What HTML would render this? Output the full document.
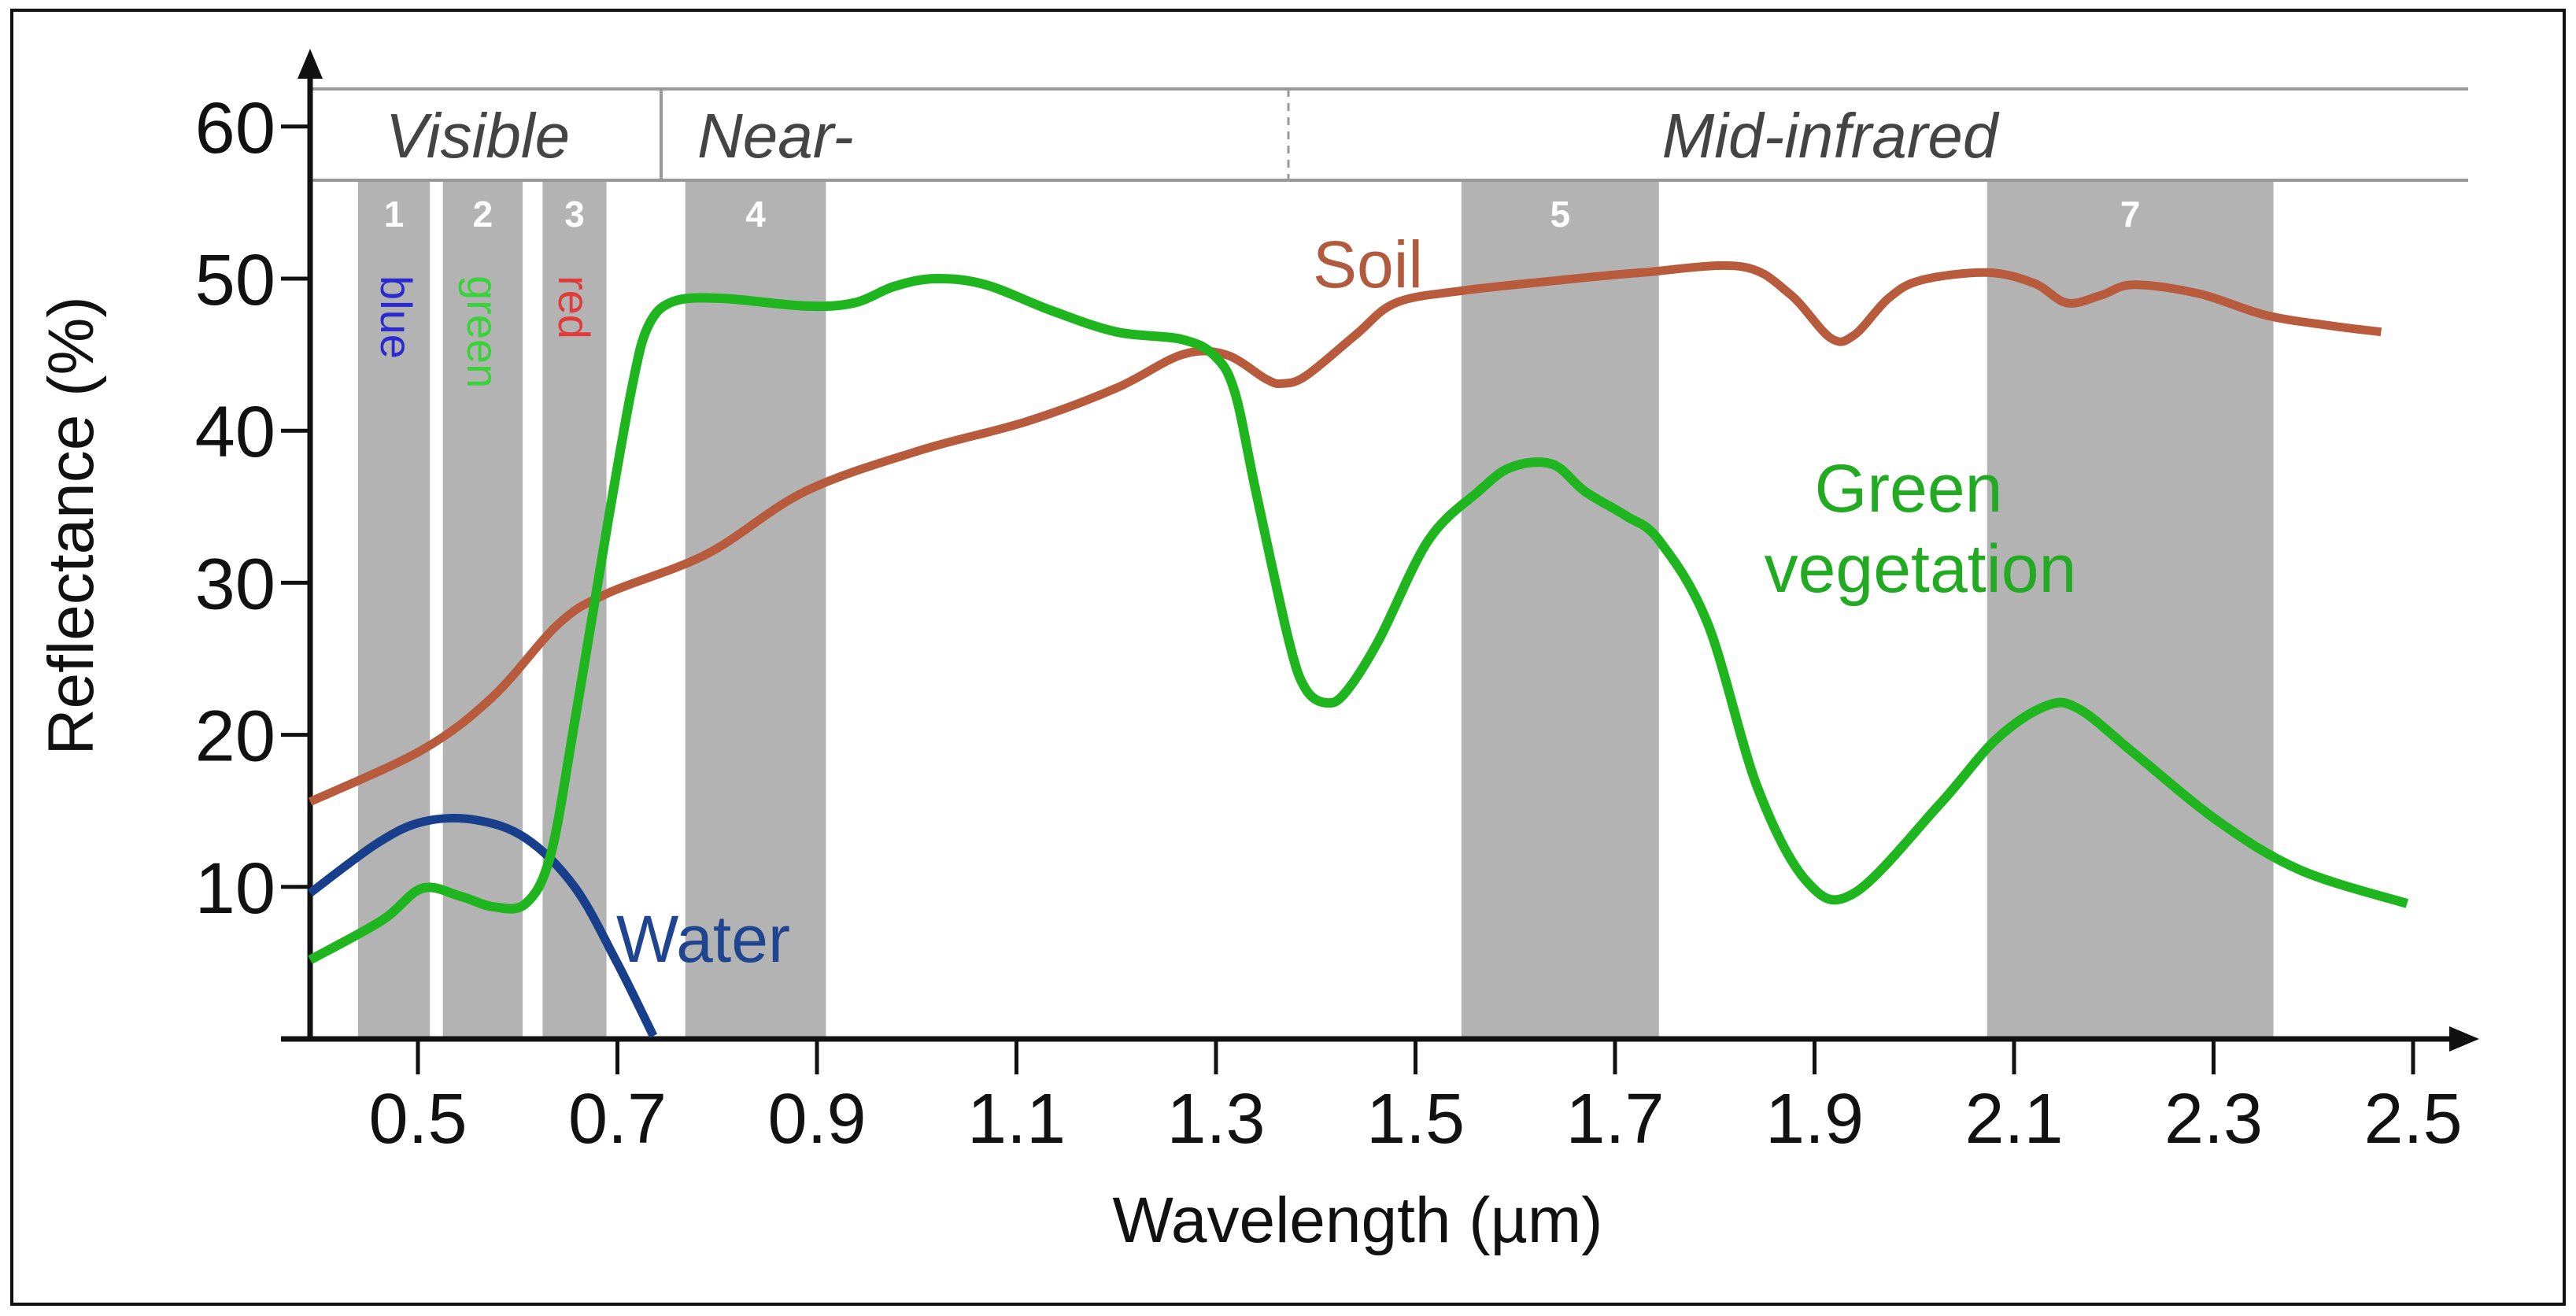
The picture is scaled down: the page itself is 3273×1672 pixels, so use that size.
<!DOCTYPE html>
<html><head><meta charset="utf-8"><style>
html,body{margin:0;padding:0;background:#fff;}
svg{display:block;font-family:"Liberation Sans",sans-serif;}
</style></head><body>
<svg id="chart" width="3273" height="1672" viewBox="0 0 3273 1672" xmlns="http://www.w3.org/2000/svg">
<rect x="15" y="13" width="3243" height="1644" fill="#fff" stroke="#111" stroke-width="4"/>
<g id="bands"></g>
<g id="header">
  <line x1="394" y1="113" x2="3136" y2="113" stroke="#999" stroke-width="4"/>
  <line x1="394" y1="229" x2="3136" y2="229" stroke="#999" stroke-width="4"/>
  <line x1="840" y1="113" x2="840" y2="229" stroke="#999" stroke-width="4"/>
  <line x1="1637" y1="113" x2="1637" y2="229" stroke="#999" stroke-width="3" stroke-dasharray="10,8"/>
  <text x="607" y="200" font-size="80" font-style="italic" fill="#444" text-anchor="middle">Visible</text>
  <text x="886" y="200" font-size="80" font-style="italic" fill="#444">Near-</text>
  <text x="2325" y="200" font-size="80" font-style="italic" fill="#444" text-anchor="middle">Mid-infrared</text>
</g>
<g id="bandtext">
  <text transform="translate(484,350) rotate(90)" font-size="56" fill="#2a2ad0">blue</text>
  <text transform="translate(594,350) rotate(90)" font-size="56" fill="#3ad23a">green</text>
  <text transform="translate(710,350) rotate(90)" font-size="56" fill="#e03a3a">red</text>
</g>
<g id="axes"></g>
<g id="series"></g>
<text x="783" y="1222" font-size="84" fill="#1f4590">Water</text>
<text x="1668" y="365" font-size="84" fill="#b25a3e">Soil</text>
<text x="2425" y="650" font-size="86" fill="#22aa22" text-anchor="middle">Green</text>
<text x="2440" y="752" font-size="86" fill="#22aa22" text-anchor="middle">vegetation</text>
<text x="1725" y="1578" font-size="82" fill="#111" text-anchor="middle">Wavelength (µm)</text>
<text transform="translate(118,668) rotate(-90)" font-size="82" fill="#111" text-anchor="middle">Reflectance (%)</text>
</svg>
<script>
const xTicks = [0.5, 0.7, 0.9, 1.1, 1.3, 1.5, 1.7, 1.9, 2.1, 2.3, 2.5];
const xTickLabels = ["0.5","0.7","0.9","1.1","1.3","1.5","1.7","1.9","2.1","2.3","2.5"];
const yTicks = [10, 20, 30, 40, 50, 60];
const yTickLabels = ["10","20","30","40","50","60"];
const bandNames = ["1","2","3","4","5","7"];
const bandStart = [0.44, 0.525, 0.625, 0.768, 1.546, 2.073];
const bandEnd = [0.512, 0.605, 0.689, 0.909, 1.744, 2.36];
const waterW = [0.392,0.46,0.506,0.558,0.608,0.657,0.699,0.736];
const waterR = [9.6,12.9,14.3,14.4,13.2,10,5.1,0.2];
const soilW = [0.392,0.504,0.575,0.641,0.69,0.79,0.888,1.003,1.11,1.2,1.266,1.31,1.35,1.366,1.39,1.44,1.48,1.546,1.645,1.727,1.826,1.875,1.916,1.94,1.974,2.007,2.073,2.12,2.153,2.187,2.22,2.286,2.352,2.418,2.468];
const soilR = [15.6,19.0,22.5,27.3,29.3,31.9,36,38.7,40.6,42.8,45.0,45.0,43.4,43.1,43.6,46.3,48.4,49.2,49.9,50.4,50.8,49,46.1,46.3,48.7,49.9,50.4,49.7,48.4,48.9,49.6,49.0,47.6,46.9,46.5];
const vegW = [0.392,0.464,0.504,0.542,0.575,0.608,0.633,0.657,0.69,0.715,0.731,0.756,0.805,0.888,0.937,0.978,1.019,1.069,1.135,1.2,1.266,1.299,1.319,1.34,1.373,1.39,1.411,1.43,1.463,1.513,1.563,1.596,1.637,1.67,1.711,1.744,1.793,1.843,1.893,1.94,2.025,2.082,2.132,2.165,2.222,2.305,2.387,2.494];
const vegR = [5.2,7.8,9.9,9.4,8.7,8.9,12.1,20.8,33.8,43,46.9,48.5,48.7,48.2,48.4,49.5,50,49.6,47.9,46.5,46,44.9,42.5,36,26.2,23,22.1,22.8,26.2,32.8,36,37.6,37.8,36,34.4,32.8,27.3,16.5,10.3,9.6,15.4,19.7,21.9,21.7,18.7,14.3,11.1,8.9];

const NS = "http://www.w3.org/2000/svg";
const X0 = 394, Y0 = 1320;
function xs(w){ return 531 + (w - 0.5) * 1267.5; }
function ys(r){ return Y0 - r * 19.32; }
function mk(tag, attrs, parent){ const e = document.createElementNS(NS, tag); for (const k in attrs) e.setAttribute(k, attrs[k]); parent.appendChild(e); return e; }

const bands = document.getElementById('bands');
for (let i = 0; i < bandNames.length; i++) {
  const r = mk('rect', {x: xs(bandStart[i]), y: 229, width: xs(bandEnd[i]) - xs(bandStart[i]), height: Y0 - 229, fill: '#b3b3b3'}, bands);
  
  
  const t = mk('text', {x: (xs(bandStart[i]) + xs(bandEnd[i])) / 2, y: 288, 'font-size': 46, 'font-weight': 'bold', fill: '#fff', 'text-anchor': 'middle'}, bands);
  t.textContent = bandNames[i];
  
  
}

const axes = document.getElementById('axes');
const xa = mk('line', {x1: 357, y1: Y0, x2: 3125, y2: Y0, stroke: '#111', 'stroke-width': 7}, axes);


const xar = mk('polygon', {points: '3150,1320 3112,1304 3112,1336', fill: '#111'}, axes);


const ya = mk('line', {x1: X0, y1: Y0 + 3, x2: X0, y2: 90, stroke: '#111', 'stroke-width': 7}, axes);


const yar = mk('polygon', {points: '394,62 378,100 410,100', fill: '#111'}, axes);


for (let i = 0; i < xTicks.length; i++) {
  const x = xs(xTicks[i]);
  const l = mk('line', {x1: x, y1: Y0, x2: x, y2: 1365, stroke: '#111', 'stroke-width': 5}, axes);
  
  
  const t = mk('text', {x: x, y: 1452, 'font-size': 90, fill: '#111', 'text-anchor': 'middle'}, axes);
  t.textContent = xTickLabels[i];
  
  
}
for (let i = 0; i < yTicks.length; i++) {
  const y = ys(yTicks[i]);
  const l = mk('line', {x1: 357, y1: y, x2: X0, y2: y, stroke: '#111', 'stroke-width': 5}, axes);
  
  
  const t = mk('text', {x: 350, y: y + 33, 'font-size': 92, fill: '#111', 'text-anchor': 'end'}, axes);
  t.textContent = yTickLabels[i];
  
  
}

function smoothPath(W, R){
  const p = W.map((w, i) => [xs(w), ys(R[i])]);
  let d = 'M' + p[0][0] + ',' + p[0][1];
  for (let i = 0; i < p.length - 1; i++) {
    const p0 = p[Math.max(0, i - 1)], p1 = p[i], p2 = p[i + 1], p3 = p[Math.min(p.length - 1, i + 2)];
    const c1 = [p1[0] + (p2[0] - p0[0]) / 6, p1[1] + (p2[1] - p0[1]) / 6];
    const c2 = [p2[0] - (p3[0] - p1[0]) / 6, p2[1] - (p3[1] - p1[1]) / 6];
    d += ' C' + c1[0] + ',' + c1[1] + ' ' + c2[0] + ',' + c2[1] + ' ' + p2[0] + ',' + p2[1];
  }
  return d;
}
const series = document.getElementById('series');
const s1 = mk('path', {d: smoothPath(soilW, soilR), fill: 'none', stroke: '#b85a3c', 'stroke-width': 11, 'stroke-linejoin': 'round'}, series);


const s2 = mk('path', {d: smoothPath(waterW, waterR), fill: 'none', stroke: '#173f8c', 'stroke-width': 11, 'stroke-linejoin': 'round'}, series);


const s3 = mk('path', {d: smoothPath(vegW, vegR), fill: 'none', stroke: '#1fb51f', 'stroke-width': 12, 'stroke-linejoin': 'round'}, series);


</script>
</body></html>
